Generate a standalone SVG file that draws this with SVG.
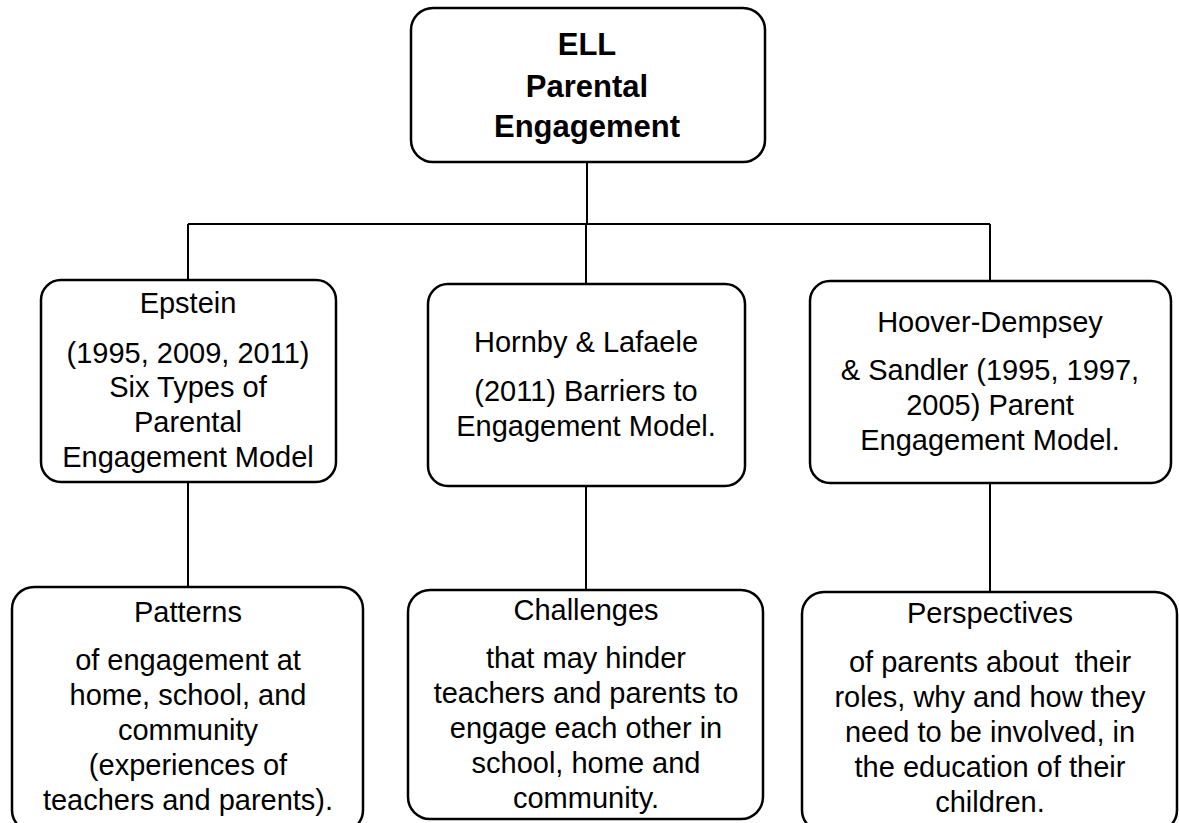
<svg xmlns="http://www.w3.org/2000/svg" width="1179" height="823" viewBox="0 0 1179 823">
  <style>
    .box { fill: #ffffff; stroke: #000000; stroke-width: 2.5; }
    .link { fill: none; stroke: #000000; stroke-width: 2; }
    text { font-family: "Liberation Sans", Arial, sans-serif; fill: #000000; text-anchor: middle; }
    .title { font-size: 31px; font-weight: bold; }
    .body { font-size: 29px; }
  </style>
  <rect width="1179" height="823" fill="#ffffff"/>

  <!-- connectors -->
  <g id="connectors">
    <path class="link" d="M587 162 V224"/>
    <path class="link" d="M188 224 H990"/>
    <path class="link" d="M188 224 V280"/>
    <path class="link" d="M586 224 V284"/>
    <path class="link" d="M990 224 V281"/>
    <path class="link" d="M188 482 V587"/>
    <path class="link" d="M586 486 V590"/>
    <path class="link" d="M990 483 V592"/>
  </g>

  <!-- root -->
  <g id="node-root">
    <rect class="box" x="411" y="8" width="354" height="154" rx="22"/>
    <text class="title" x="587" y="55">ELL</text>
    <text class="title" x="587" y="97">Parental</text>
    <text class="title" x="587" y="137">Engagement</text>
  </g>

  <!-- models -->
  <g id="node-epstein">
    <rect class="box" x="41" y="280" width="295" height="202" rx="20"/>
    <text class="body" x="188" y="313">Epstein</text>
    <text class="body" x="188" y="363">(1995, 2009, 2011)</text>
    <text class="body" x="188" y="397">Six Types of</text>
    <text class="body" x="188" y="432">Parental</text>
    <text class="body" x="188" y="467">Engagement Model</text>
  </g>

  <g id="node-hornby">
    <rect class="box" x="428" y="284" width="317" height="202" rx="20"/>
    <text class="body" x="586" y="352">Hornby &amp; Lafaele</text>
    <text class="body" x="586" y="401">(2011) Barriers to</text>
    <text class="body" x="586" y="436">Engagement Model.</text>
  </g>

  <g id="node-hoover">
    <rect class="box" x="810" y="281" width="361" height="202" rx="20"/>
    <text class="body" x="990" y="332">Hoover-Dempsey</text>
    <text class="body" x="990" y="380">&amp; Sandler (1995, 1997,</text>
    <text class="body" x="990" y="415">2005) Parent</text>
    <text class="body" x="990" y="450">Engagement Model.</text>
  </g>

  <!-- outcomes -->
  <g id="node-patterns">
    <rect class="box" x="12" y="587" width="351" height="245" rx="22"/>
    <text class="body" x="188" y="622">Patterns</text>
    <text class="body" x="188" y="670">of engagement at</text>
    <text class="body" x="188" y="705">home, school, and</text>
    <text class="body" x="188" y="740">community</text>
    <text class="body" x="188" y="775">(experiences of</text>
    <text class="body" x="188" y="810">teachers and parents).</text>
  </g>

  <g id="node-challenges">
    <rect class="box" x="408" y="590" width="355" height="229" rx="22"/>
    <text class="body" x="586" y="620">Challenges</text>
    <text class="body" x="586" y="668">that may hinder</text>
    <text class="body" x="586" y="703">teachers and parents to</text>
    <text class="body" x="586" y="738">engage each other in</text>
    <text class="body" x="586" y="773">school, home and</text>
    <text class="body" x="586" y="808">community.</text>
  </g>

  <g id="node-perspectives">
    <rect class="box" x="802" y="592" width="375" height="240" rx="22"/>
    <text class="body" x="990" y="623">Perspectives</text>
    <text class="body" x="990" y="672" xml:space="preserve">of parents about  their</text>
    <text class="body" x="990" y="707">roles, why and how they</text>
    <text class="body" x="990" y="742">need to be involved, in</text>
    <text class="body" x="990" y="777">the education of their</text>
    <text class="body" x="990" y="812">children.</text>
  </g>
</svg>
